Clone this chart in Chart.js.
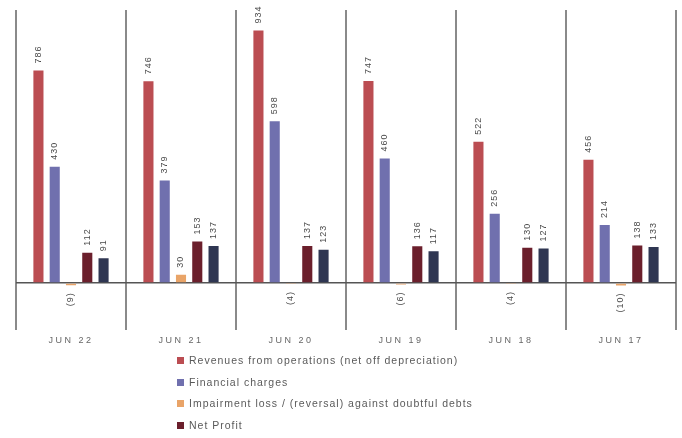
<!DOCTYPE html>
<html lang="en">
<head>
    <meta charset="UTF-8">
    <title>Financial summary</title>
    <script src="https://cdn.jsdelivr.net/npm/chart.js"></script>
    <style>
        html, body {
            margin: 0;
            padding: 0;
            background: #fff;
            overflow: hidden;
            font-family: "Liberation Sans", Arial, sans-serif;
        }
        .chart-box {
            position: relative;
            width: 682px;
            height: 355px;
        }
        #legend {
            position: absolute;
            left: 177px;
            top: 350px;
            margin: 0;
            padding: 0;
            list-style: none;
        }
        #legend li {
            height: 21.5px;
            line-height: 21.5px;
            font-size: 10.5px;
            letter-spacing: 1px;
            color: #5a5a5a;
            white-space: nowrap;
        }
        #legend span {
            display: inline-block;
            width: 7px;
            height: 7px;
            margin-right: 5px;
            vertical-align: 0;
        }
    </style>
</head>
<body>
    <div class="chart-box">
        <canvas id="finChart"></canvas>
    </div>
    <ul id="legend"></ul>

    <script>
        // years, newest first as in the source
        const periods = ['JUN 22', 'JUN 21', 'JUN 20', 'JUN 19', 'JUN 18', 'JUN 17'];

        const revenue     = [786, 746, 934, 747, 522, 456];
        const finCharges  = [430, 379, 598, 460, 256, 214];
        const impairment  = [-9, 30, -4, -6, -4, -10];
        const netProfit   = [112, 153, 137, 136, 130, 138];
        const profitAfter = [91, 137, 123, 117, 127, 133];

        const seriesNames = [
            'Revenues from operations (net off depreciation)',
            'Financial charges',
            'Impairment loss / (reversal) against doubtful debts',
            'Net Profit',
            'Profit after tax'
        ];
        const colors = ['#bb4d52', '#7070ae', '#e9a468', '#6b1f2c', '#2f3652'];

        const values = [revenue, finCharges, impairment, netProfit, profitAfter];

        // vertical value labels, negatives shown in brackets below the bar
        const barLabels = {
            id: 'barLabels',
            afterDatasetsDraw(chart) {
                const ctx = chart.ctx;
                ctx.save();
                ctx.font = '9px "Liberation Sans", Arial, sans-serif';
                ctx.fillStyle = '#4a4a4a';
                ctx.letterSpacing = '1px';
                ctx.textBaseline = 'middle';
                chart.data.datasets.forEach((ds, i) => {
                    const meta = chart.getDatasetMeta(i);
                    meta.data.forEach((bar, j) => {
                        const v = ds.data[j];
                        const txt = v < 0 ? '(' + Math.abs(v) + ')' : String(v);
                        ctx.save();
                        if (v >= 0) {
                            ctx.translate(bar.x, bar.y - 7);
                            ctx.rotate(-Math.PI / 2);
                            ctx.textAlign = 'left';
                        } else {
                            ctx.translate(bar.x, bar.y + 7);
                            ctx.rotate(-Math.PI / 2);
                            ctx.textAlign = 'right';
                        }
                        ctx.fillText(txt, 0, 0);
                        ctx.restore();
                    });
                });
                ctx.restore();
            }
        };

        // spaced-out category labels
        const spacing = {
            id: 'spacing',
            beforeDraw(chart) { chart.ctx.letterSpacing = '2.5px'; },
            beforeDatasetsDraw(chart) { chart.ctx.letterSpacing = '0px'; }
        };

        new Chart(document.getElementById('finChart'), {
            type: 'bar',
            data: {
                labels: periods,
                datasets: values.map((d, i) => ({
                    label: seriesNames[i],
                    data: d,
                    backgroundColor: colors[i],
                    barPercentage: 0.62,
                    categoryPercentage: 0.74
                }))
            },
            options: {
                responsive: true,
                maintainAspectRatio: false,
                animation: false,
                layout: { padding: { top: 10, left: 16, right: 6, bottom: 4 } },
                plugins: {
                    legend: { display: false },
                    tooltip: { enabled: false }
                },
                scales: {
                    x: {
                        border: { display: false },
                        grid: {
                            offset: true,
                            drawTicks: false,
                            color: '#8a8a8a',
                            lineWidth: 2
                        },
                        ticks: {
                            color: '#666',
                            padding: 5,
                            font: { size: 9, family: '"Liberation Sans", Arial, sans-serif' }
                        }
                    },
                    y: {
                        min: -175,
                        max: 1010,
                        ticks: { display: false, stepSize: 175 },
                        border: { display: false },
                        grid: {
                            drawTicks: false,
                            color: (c) => c.tick && c.tick.value === 0 ? '#555' : 'rgba(0,0,0,0)',
                            lineWidth: 1.5
                        }
                    }
                }
            },
            plugins: [spacing, barLabels]
        });

        // legend stacked like the source, last entry falls off the bottom
        const legendEl = document.getElementById('legend');
        seriesNames.forEach((name, i) => {
            const li = document.createElement('li');
            li.innerHTML = '<span style="background:' + colors[i] + '"></span>' + name;
            legendEl.appendChild(li);
        });
    </script>
</body>
</html>
